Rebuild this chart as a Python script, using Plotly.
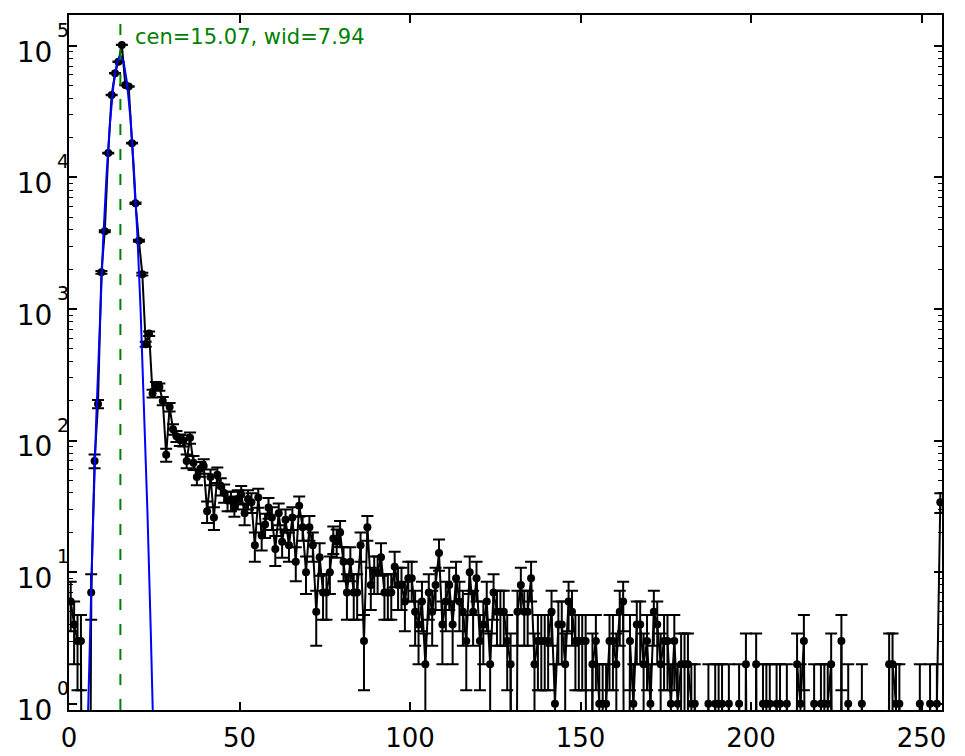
import numpy as np
import plotly.graph_objects as go

# counts per bin (bins 0..255)
counts = [
    6, 4, 3, 3, 0, 0, 7, 70, 190, 1900,
    3900, 15300, 42300, 61800, 75700, 101500, 50400, 49000, 18200, 6370,
    3300, 1840, 540, 650, 228, 262, 255, 200, 78, 180,
    122, 108, 101, 100, 70, 105, 68, 53, 61, 64,
    29, 53, 26, 55, 45, 40, 35, 35, 32, 36,
    39, 28, 36, 34, 16, 37, 19, 23, 31, 26,
    15, 28, 17, 25, 16, 26, 12, 32, 22, 10,
    22, 16, 5, 13, 7, 7, 10, 18, 17, 20,
    12, 7, 12, 7, 7, 16, 3, 22, 8, 10,
    10, 13, 7, 7, 7, 11, 8, 8, 6, 9,
    9, 5, 4, 6, 2, 7, 5, 8, 14, 4,
    6, 8, 4, 9, 6, 5, 3, 10, 5, 9,
    3, 4, 6, 2, 7, 5, 5, 5, 3, 2,
    0, 5, 8, 5, 5, 9, 2, 3, 3, 3,
    3, 5, 1, 4, 4, 2, 6, 5, 3, 3,
    3, 3, 0, 2, 3, 1, 1, 1, 3, 3,
    2, 5, 6, 0, 3, 1, 4, 4, 2, 3,
    1, 5, 4, 2, 3, 3, 1, 3, 1, 2,
    2, 2, 1, 1, 0, 0, 0, 1, 0, 1,
    1, 1, 0, 1, 0, 0, 1, 0, 2, 0,
    0, 2, 0, 1, 1, 1, 0, 1, 1, 0,
    1, 0, 0, 2, 1, 3, 0, 0, 1, 0,
    1, 1, 1, 2, 0, 0, 3, 0, 1, 0,
    0, 0, 1, 0, 0, 0, 0, 0, 0, 0,
    2, 2, 1, 1, 0, 0, 0, 0, 0, 1,
    0, 0, 1, 0, 1, 34,
]

# gaussian fit
cen = 15.07
wid = 7.94
fit_x = [5, 6, 7, 8, 9, 10, 11, 12, 13, 14, 15, 16, 17, 18, 19, 20, 21, 22, 23, 24, 25]
fit_y = [0.22, 2.47, 21.8, 149, 788, 3243, 10340, 25590, 49110, 73160, 84550,
         75800, 52730, 28460, 11920, 3872, 976, 191, 28.9, 3.4, 0.31]

x_ticks = [0, 50, 100, 150, 200, 250]
y_exps = [0, 1, 2, 3, 4, 5]

counts = np.array(counts, dtype=float)
centers = np.arange(len(counts)) + 0.5
errs = np.sqrt(counts)
# empty bins fall off the bottom of the log axis like matplotlib's clipping
yplot = np.where(counts > 0, counts, 1e-6)

minor_vals = [m * 10 ** e for e in range(-1, 6) for m in range(2, 10)]

fig = go.Figure()
fig.add_trace(go.Scatter(
    x=centers, y=yplot, mode="lines+markers",
    line=dict(color="black", width=2),
    marker=dict(color="black", size=8),
    error_y=dict(type="data", array=errs, color="black", thickness=2, width=6),
))
fig.add_trace(go.Scatter(
    x=fit_x, y=fit_y, mode="lines",
    line=dict(color="#0000ff", width=2),
))

fig.add_shape(type="line", xref="x", yref="paper", x0=cen, x1=cen, y0=0, y1=1,
              line=dict(color="#008000", width=2, dash="11px,14px"), layer="above")
fig.add_annotation(x=cen + 3.7, y=0.968, xref="x", yref="paper",
                   text=f"cen={cen:.2f}, wid={wid:.2f}", showarrow=False,
                   xanchor="left", yanchor="middle",
                   font=dict(color="#008000", size=21))

# matplotlib-style exponents sitting high on the right of each "10"
for e in y_exps:
    fig.add_annotation(x=0, y=e, xref="paper", yref="y", text=str(e),
                       showarrow=False, xanchor="left", yanchor="middle",
                       xshift=-14, yshift=16, font=dict(size=19, color="black"))

# the page body adds 8px around the figure, so the figure is 8px smaller
fig.update_layout(
    width=957, height=748,
    margin=dict(l=61, r=23, t=7, b=46, autoexpand=False),
    paper_bgcolor="white", plot_bgcolor="white",
    showlegend=False,
    font=dict(family="DejaVu Sans", color="black", size=26),
    xaxis=dict(
        range=[0, 256], tickvals=x_ticks, ticks="inside", ticklen=8,
        tickwidth=1.5, tickcolor="black", showgrid=False, zeroline=False,
        showline=True, linewidth=2, linecolor="black", mirror="allticks",
        tickfont=dict(size=26), ticklabelstandoff=4, automargin=False,
    ),
    yaxis=dict(
        type="log", range=[np.log10(0.897), 5.234],
        tickvals=[10 ** e for e in y_exps],
        ticktext=["10" for e in y_exps],
        ticks="inside", ticklen=8, tickwidth=1.5, tickcolor="black",
        minor=dict(tickvals=minor_vals, ticks="inside", ticklen=4,
                   tickwidth=1, tickcolor="black", showgrid=False),
        showgrid=False, zeroline=False,
        showline=True, linewidth=2, linecolor="black", mirror="allticks",
        tickfont=dict(size=28), ticklabelstandoff=9, ticklabelshift=6,
        automargin=False,
    ),
)

fig.write_html("out.html")
